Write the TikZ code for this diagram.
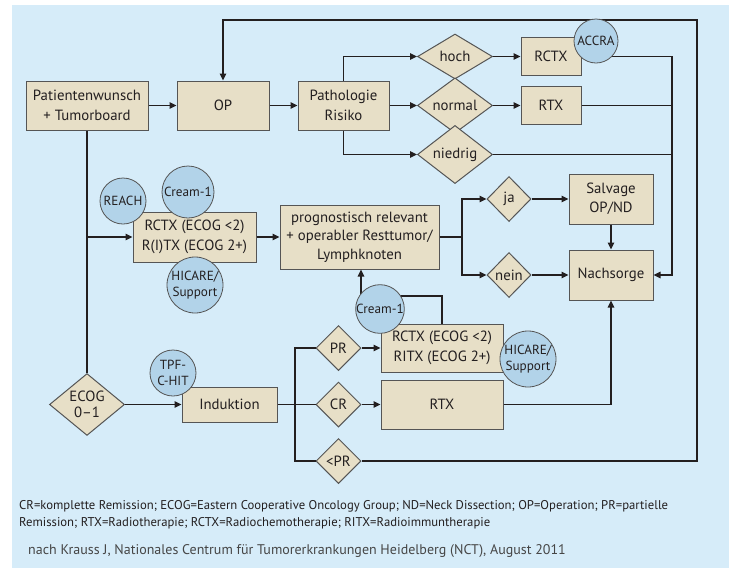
\documentclass[tikz,border=0pt]{standalone}
\usepackage{fontspec}
\setmainfont{PT Sans}
\usetikzlibrary{shapes.geometric,arrows.meta}
\definecolor{bgblue}{RGB}{214,236,249}
\definecolor{boxfill}{RGB}{231,223,199}
\definecolor{boxdraw}{RGB}{85,85,85}
\definecolor{circfill}{RGB}{178,211,233}
\definecolor{linecol}{RGB}{35,31,32}
\definecolor{credcol}{RGB}{70,70,70}
\begin{document}
\begin{tikzpicture}[x=1pt,y=-1pt,
  box/.style={draw=boxdraw, fill=boxfill, line width=1pt, inner sep=0pt, align=center,
    text=linecol, font=\fontsize{14.8}{19.5}\selectfont},
  dia/.style={shape=diamond, draw=boxdraw, fill=boxfill, line width=1pt, inner sep=0pt,
    align=center, text=linecol, font=\fontsize{14.8}{16}\selectfont},
  circ/.style={circle, draw=boxdraw, fill=circfill, line width=0.8pt, inner sep=0pt,
    align=center, text=linecol, font=\fontsize{13.2}{16}\selectfont},
  conn/.style={draw=linecol, line width=1.3pt},
  arr/.style={conn, -{Triangle[length=7pt,width=6.5pt]}},
  captext/.style={anchor=base west, inner sep=0pt, text=linecol, font=\fontsize{12.7}{15}\selectfont},
  credtext/.style={anchor=base west, inner sep=0pt, text=credcol, font=\fontsize{14}{16}\selectfont},
]
\useasboundingbox (0,0) rectangle (729,574);
\fill[white] (0,0) rectangle (729,574);
\fill[bgblue] (12,5) rectangle (729,568);

% boxes
\node[box, minimum width=122, minimum height=49] (pat) at (87,105.5) {Patientenwunsch\\+ Tumorboard};
\node[box, minimum width=92, minimum height=49] (op) at (223,105.5) {OP};
\node[box, minimum width=91, minimum height=49] (path) at (343.5,105.5) {Pathologie\\Risiko};
\node[dia, minimum width=75, minimum height=45] (hoch) at (455,56.5) {hoch};
\node[dia, minimum width=75, minimum height=45] (normal) at (455,105.5) {normal};
\node[dia, minimum width=75, minimum height=45] (niedrig) at (455,154.5) {niedrig};
\node[box, minimum width=60, minimum height=38] (rctxa) at (551,56.5) {RCTX};
\node[box, minimum width=60, minimum height=38] (rtxa) at (551,105.5) {RTX};
\node[box, minimum width=84, minimum height=50] (salv) at (611,199) {Salvage\\OP/ND};
\node[box, minimum width=84, minimum height=50] (nach) at (611,275) {Nachsorge};
\node[dia, minimum width=44, minimum height=45] (ja) at (509,199) {ja};
\node[dia, minimum width=44, minimum height=45] (nein) at (509,275) {nein};
\node[box, minimum width=159, minimum height=64, font=\fontsize{14.8}{18.5}\selectfont] (prog) at (359.5,237) {prognostisch relevant\\+ operabler Resttumor/\\Lymphknoten};
\node[box, minimum width=123, minimum height=50] (rctxb) at (194.5,237) {RCTX (ECOG <2)\\R(I)TX (ECOG 2+)};
\node[dia, minimum width=75, minimum height=53] (ecog) at (87,404.5) {ECOG\\0–1};
\node[box, minimum width=95, minimum height=35] (ind) at (229.5,404.5) {Induktion};
\node[dia, minimum width=45, minimum height=45] (pr) at (338.5,348) {PR};
\node[dia, minimum width=45, minimum height=45] (cr) at (338.5,404.5) {CR};
\node[dia, minimum width=45, minimum height=45] (ltpr) at (338.5,461) {<PR};
\node[box, minimum width=122, minimum height=48] (rctxc) at (442,348) {RCTX (ECOG <2)\\RITX (ECOG 2+)};
\node[box, minimum width=122, minimum height=49] (rtxc) at (442,404.5) {RTX};

% helper coordinates
\coordinate (rline) at (672,0);
\coordinate (outer) at (697,20);
\coordinate (fork) at (462,237);
\coordinate (ifork) at (295,404.5);
\coordinate (cj) at (361,296);

% connectors
\draw[arr] (pat) -- (op);
\draw[arr] (op) -- (path);
\draw[arr] (path.north) |- (hoch.west);
\draw[arr] (path.east) -- (normal.west);
\draw[arr] (path.south) |- (niedrig.west);
\draw[arr] (hoch) -- (rctxa);
\draw[arr] (normal) -- (rtxa);
\draw[arr] (rctxa.east) -| (rline |- nach.east) -- (nach.east);
\draw[conn] (rtxa.east) -- (rtxa.east -| rline);
\draw[conn] (niedrig.east) -- (niedrig.east -| rline);
\draw[arr] (ltpr.east) -| (outer) -| (op.north);
\draw[conn] (pat.south) -- (ecog.north);
\draw[arr] (pat.south |- rctxb.west) -- (rctxb.west);
\draw[arr] (rctxb) -- (prog);
\draw[conn] (prog.east) -- (fork);
\draw[arr] (fork) |- (ja.west);
\draw[arr] (fork) |- (nein.west);
\draw[arr] (ja) -- (salv);
\draw[arr] (nein) -- (nach);
\draw[arr] (salv) -- (nach);
\draw[arr] (ecog) -- (ind);
\draw[conn] (ind.east) -- (cr.west);
\draw[conn] (pr.west) -| (ifork) |- (ltpr.west);
\draw[arr] (pr) -- (rctxc);
\draw[arr] (cr) -- (rtxc);
\draw[arr] (rctxc.north) |- (cj) -- (cj |- prog.south);
\draw[arr] (rtxc.east) -| (nach.south);

% circles
\node[circ, minimum size=44] (accra) at (596,41) {ACCRA};
\node[circ, minimum size=46] (reach) at (123,201) {REACH};
\node[circ, minimum size=52] (creama) at (188,192) {Cream-1};
\node[circ, minimum size=56] (hicarea) at (195,285) {HICARE/\\Support};
\node[circ, minimum size=46] (tpf) at (173,373) {TPF-\\C-HIT};
\node[circ, minimum size=48] (creamb) at (380,309) {Cream-1};
\node[circ, minimum size=56] (hicareb) at (528,359) {HICARE/\\Support};

% caption
\node[captext] (capa) at (19,509) {CR=komplette Remission; ECOG=Eastern Cooperative Oncology Group; ND=Neck Dissection; OP=Operation; PR=partielle};
\node[captext] (capb) at (19,526) {Remission; RTX=Radiotherapie; RCTX=Radiochemotherapie; RITX=Radioimmuntherapie};
\node[credtext] (cred) at (28,554) {nach Krauss J, Nationales Centrum für Tumorerkrankungen Heidelberg (NCT), August 2011};
\end{tikzpicture}
\end{document}
